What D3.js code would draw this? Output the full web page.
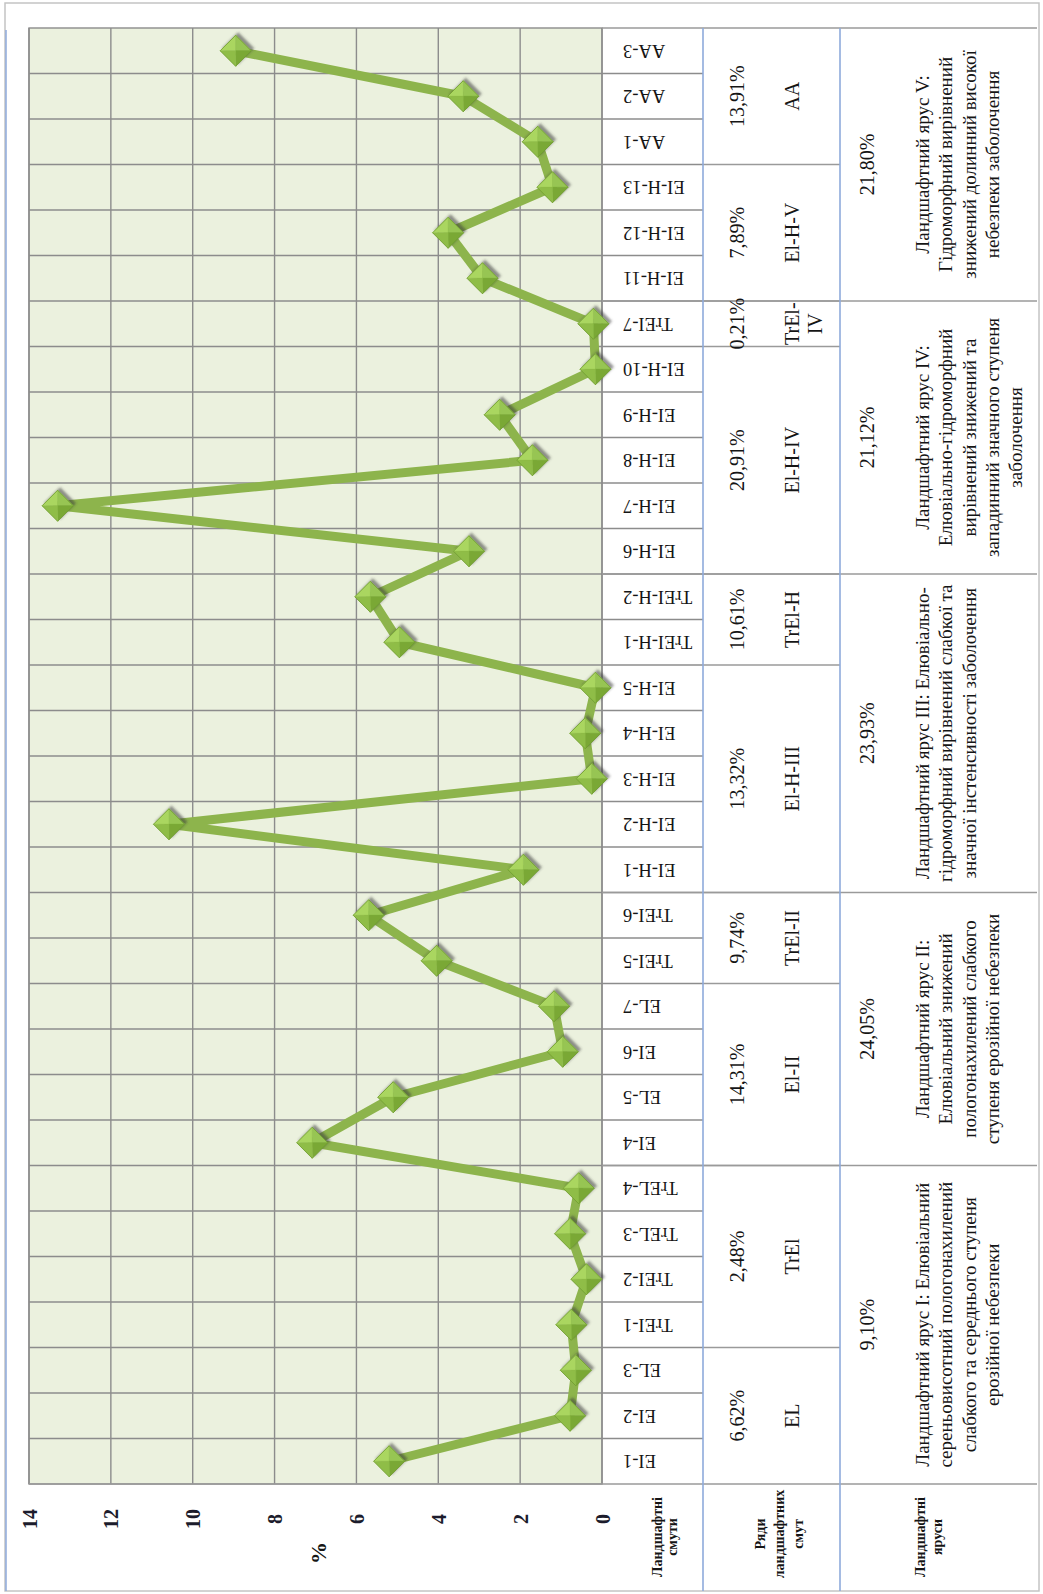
<!DOCTYPE html>
<html>
<head>
<meta charset="utf-8">
<script src="https://cdn.jsdelivr.net/npm/d3@7"></script>
<style>
  body { margin: 0; background: #fff; }
  text { font-family: "Liberation Serif", "Times New Roman", "DejaVu Serif", serif; fill: #151515; }
</style>
</head>
<body>
<script>
// landscape units (bottom to top in the picture)
const categories = [
  "EI-1", "EI-2", "EL-3", "TrEI-1", "TrEI-2", "TrEL-3", "TrEL-4",
  "EI-4", "EL-5", "EI-6", "EL-7", "TrEI-5", "TrEI-6",
  "EI-H-1", "EI-H-2", "EI-H-3", "EI-H-4", "EI-H-5", "TrEI-H-1", "TrEI-H-2",
  "EI-H-6", "EI-H-7", "EI-H-8", "EI-H-9", "EI-H-10", "TrEI-7",
  "EI-H-11", "EI-H-12", "EI-H-13", "AA-1", "AA-2", "AA-3"
];
const values = [
  5.2, 0.78, 0.64, 0.75, 0.38, 0.78, 0.57,
  7.08, 5.1, 0.96, 1.17, 4.04, 5.7,
  1.92, 10.58, 0.25, 0.41, 0.16, 4.95, 5.66,
  3.25, 13.3, 1.7, 2.5, 0.16, 0.21,
  2.92, 3.76, 1.21, 1.57, 3.39, 8.95
];

// rows of landscape units
const rowNames = [["EL"], ["TrEl"], ["El-II"], ["TrEl-II"], ["El-H-III"], ["TrEl-H"], ["El-H-IV"], ["TrEl-", "IV"], ["El-H-V"], ["AA"]];
const rowShares = ["6,62%", "2,48%", "14,31%", "9,74%", "13,32%", "10,61%", "20,91%", "0,21%", "7,89%", "13,91%"];
const rowSizes = [3, 4, 4, 2, 5, 2, 5, 1, 3, 3];

// landscape tiers
const tierShares = ["9,10%", "24,05%", "23,93%", "21,12%", "21,80%"];
const tierSizes = [7, 6, 7, 6, 6];
const tierTexts = [
  ["Ландшафтний ярус І: Елювіальний", "сереньовисотний пологонахилений", "слабкого та середнього  ступеня", "ерозійної небезпеки"],
  ["Ландшафтний ярус ІІ:", "Елювіальний знижений", "пологонахилений слабкого", "ступеня ерозійної небезпеки"],
  ["Ландшафтний ярус ІІІ: Елювіально-", "гідроморфний вирівнений слабкої та", "значної інстенсивності заболочення"],
  ["Ландшафтний ярус IV:", "Елювіально-гідроморфний", "вирівнений знижений та", "западинний значного ступеня", "заболочення"],
  ["Ландшафтний ярус V:", "Гідроморфний вирівнений", "знижений долинний високої", "небезпеки заболочення"]
];

const headers = [["Ландшафтні", "смути"], ["Ряди", "ландшафтних", "смут"], ["Ландшафтні", "яруси"]];
const ticks = [0, 2, 4, 6, 8, 10, 12, 14];

const width = 1043, height = 1594;
const plot = { left: 29, right: 602, top: 28, bottom: 1484 };
const cols = [602, 703, 840, 1037];
const tableBottom = 1591;
const serif = "'Liberation Serif', 'Times New Roman', serif";

const svg = d3.select("body").append("svg")
  .attr("width", width).attr("height", height);

const defs = svg.append("defs");
const shadow = defs.append("filter").attr("id", "shadow")
  .attr("x", "-50%").attr("y", "-50%").attr("width", "200%").attr("height", "200%");
shadow.append("feDropShadow")
  .attr("dx", 2.5).attr("dy", -2.5).attr("stdDeviation", 1.3)
  .attr("flood-color", "#3a3a3a").attr("flood-opacity", 0.55);

const x = d3.scaleLinear().domain([0, 14]).range([plot.right, plot.left]);
const y = d3.scaleBand().domain(categories).range([plot.bottom, plot.top]);
const cy = d => y(d) + y.bandwidth() / 2;

// outer frame
svg.append("rect")
  .attr("x", 5).attr("y", 3).attr("width", 1034).attr("height", tableBottom - 3)
  .attr("fill", "none").attr("stroke", "#c4c4c4").attr("stroke-width", 1.5);
svg.append("line")
  .attr("x1", 6).attr("x2", 6).attr("y1", 30).attr("y2", tableBottom)
  .attr("stroke", "#8eaadb").attr("stroke-width", 1.5);

// plot area
svg.append("rect")
  .attr("x", plot.left).attr("y", plot.top)
  .attr("width", plot.right - plot.left).attr("height", plot.bottom - plot.top)
  .attr("fill", "#ebf1de");

const grid = svg.append("g").attr("stroke", "#8c8c8c").attr("stroke-width", 1.4);
grid.selectAll(".vgrid")
  .data(ticks)
  .join("line")
  .attr("x1", d => x(d)).attr("x2", d => x(d))
  .attr("y1", plot.top).attr("y2", plot.bottom);
grid.selectAll(".hgrid")
  .data(categories.slice(1))
  .join("line")
  .attr("x1", plot.left).attr("x2", cols[1])
  .attr("y1", d => y(d) + y.bandwidth()).attr("y2", d => y(d) + y.bandwidth());
grid.append("rect")
  .attr("x", plot.left).attr("y", plot.top)
  .attr("width", plot.right - plot.left).attr("height", plot.bottom - plot.top)
  .attr("fill", "none");

// value axis (labels rotated like the rest of the sheet)
const axis = svg.append("g")
  .attr("transform", `translate(0,${plot.bottom})`)
  .call(d3.axisBottom(x).tickValues(ticks).tickSize(0))
  .attr("font-family", serif);
axis.select(".domain").remove();
axis.selectAll("text")
  .attr("y", 0).attr("dy", null)
  .attr("transform", "translate(0,35) rotate(-90)")
  .attr("text-anchor", "middle")
  .attr("dominant-baseline", "central")
  .style("font-family", serif)
  .style("font-size", "20px").style("font-weight", "bold")
  .style("fill", "#1c1c2c");

svg.append("text")
  .attr("transform", "translate(318,1553) rotate(-90)")
  .attr("text-anchor", "middle").attr("dominant-baseline", "central")
  .style("font-size", "22px").style("font-weight", "bold")
  .text("%");

// table lines
const tline = svg.append("g").attr("stroke", "#9a9a9a").attr("stroke-width", 1.4);
tline.append("line").attr("x1", cols[0]).attr("x2", cols[3]).attr("y1", plot.top).attr("y2", plot.top);
tline.append("line").attr("x1", plot.left).attr("x2", cols[3]).attr("y1", plot.bottom).attr("y2", plot.bottom);

// groups helper
const groupSpans = sizes => {
  let start = 0;
  return sizes.map(n => {
    const span = { first: start, last: start + n - 1 };
    start += n;
    span.y0 = y(categories[span.last]);
    span.y1 = y(categories[span.first]) + y.bandwidth();
    span.mid = (span.y0 + span.y1) / 2;
    return span;
  });
};
const rows = groupSpans(rowSizes);
const tiers = groupSpans(tierSizes);

tline.selectAll(".rowline")
  .data(rows.slice(0, -1))
  .join("line")
  .attr("x1", cols[1]).attr("x2", cols[2])
  .attr("y1", d => d.y0).attr("y2", d => d.y0);
tline.selectAll(".tierline")
  .data(tiers.slice(0, -1))
  .join("line")
  .attr("x1", cols[0]).attr("x2", cols[3])
  .attr("y1", d => d.y0).attr("y2", d => d.y0);

svg.append("g").attr("stroke", "#8eaadb").attr("stroke-width", 1.6)
  .selectAll("line")
  .data([cols[1], cols[2]])
  .join("line")
  .attr("x1", d => d).attr("x2", d => d)
  .attr("y1", plot.top).attr("y2", tableBottom);

// rotated multi-line text helper
const vtext = (g, xPos, yPos, lines, size, step, weight) => {
  const t = g.append("text")
    .attr("transform", `translate(${xPos},${yPos}) rotate(-90)`)
    .attr("text-anchor", "middle")
    .attr("dominant-baseline", "central")
    .style("font-size", size + "px")
    .style("font-weight", weight || "normal");
  lines.forEach((l, i) => {
    t.append("tspan").attr("x", 0).attr("y", i * step).text(l);
  });
};

const labels = svg.append("g");
// category labels, upside down
labels.selectAll(".cat")
  .data(categories)
  .join("text")
  .attr("transform", d => `translate(623,${cy(d)}) rotate(180)`)
  .attr("text-anchor", "end")
  .attr("dominant-baseline", "central")
  .style("font-size", "18.5px")
  .text(d => d);

rows.forEach((r, i) => {
  vtext(labels, 737, r.mid, [rowShares[i]], 20, 0);
  vtext(labels, 792, r.mid, rowNames[i], 20, 23);
});
tiers.forEach((t, i) => {
  vtext(labels, 867, t.mid, [tierShares[i]], 20, 0);
  vtext(labels, 922, t.mid, tierTexts[i], 19, 23.3);
});

vtext(labels, 657, 1537, headers[0], 14, 15, "bold");
vtext(labels, 760, 1534, headers[1], 14, 19, "bold");
vtext(labels, 920, 1537, headers[2], 14, 17, "bold");

// series line
const points = categories.map((c, i) => ({ c, v: values[i] }));
svg.append("path")
  .datum(points)
  .attr("fill", "none")
  .attr("stroke", "#8db44c")
  .attr("stroke-width", 9)
  .attr("stroke-linejoin", "round")
  .attr("d", d3.line().x(d => x(d.v)).y(d => cy(d.c)));

// pyramid diamond markers
const r = 15.5;
const facets = [
  { p: [[-r, 0], [0, -r], [0, 0]], fill: "#aad660" },
  { p: [[0, -r], [r, 0], [0, 0]], fill: "#97c552" },
  { p: [[r, 0], [0, r], [0, 0]], fill: "#7aa836" },
  { p: [[0, r], [-r, 0], [0, 0]], fill: "#8fbd47" }
];
const markers = svg.append("g").attr("filter", "url(#shadow)")
  .selectAll("g")
  .data(points)
  .join("g")
  .attr("transform", d => `translate(${x(d.v)},${cy(d.c)})`);
markers.selectAll("path")
  .data(facets)
  .join("path")
  .attr("d", f => "M" + f.p.map(q => q.join(",")).join("L") + "Z")
  .attr("fill", f => f.fill)
  .attr("stroke", f => f.fill)
  .attr("stroke-width", 0.5);
markers.append("path")
  .attr("d", `M${-r},0L0,${-r}L${r},0L0,${r}Z`)
  .attr("fill", "none")
  .attr("stroke", "#6f9a30")
  .attr("stroke-width", 0.8);
</script>
</body>
</html>
